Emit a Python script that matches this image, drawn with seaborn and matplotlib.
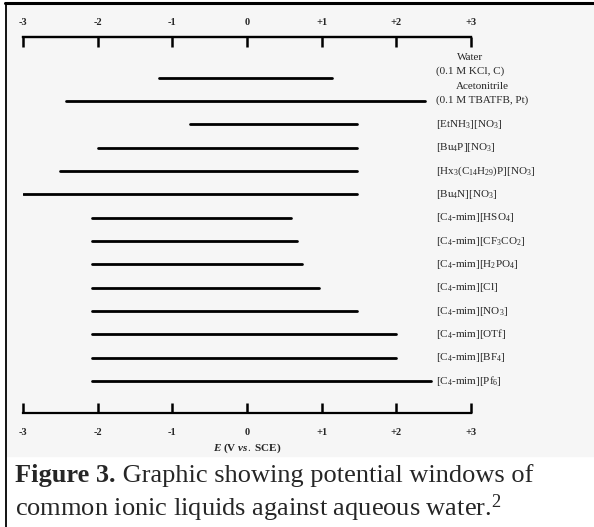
import pandas as pd
import seaborn as sns
import matplotlib.pyplot as plt
from matplotlib.lines import Line2D
from matplotlib.patches import Rectangle

# potential windows (V vs. SCE)
liquids = [
    "Water\n(0.1 M KCl, C)",
    "Acetonitrile\n(0.1 M TBATFB, Pt)",
    "[EtNH$_3$][NO$_3$]",
    "[Bu$_4$P][NO$_3$]",
    "[Hx$_3$(C$_{14}$H$_{29}$)P][NO$_3$]",
    "[Bu$_4$N][NO$_3$]",
    "[C$_4$-mim][HSO$_4$]",
    "[C$_4$-mim][CF$_3$CO$_2$]",
    "[C$_4$-mim][H$_2$PO$_4$]",
    "[C$_4$-mim][Cl]",
    "[C$_4$-mim][NO$_3$]",
    "[C$_4$-mim][OTf]",
    "[C$_4$-mim][BF$_4$]",
    "[C$_4$-mim][Pf$_6$]",
]
cathodic = [-1.18, -2.43, -0.76, -2.0, -2.5, -3.0, -2.07, -2.07, -2.07, -2.07, -2.07, -2.07, -2.07, -2.07]
anodic = [1.14, 2.38, 1.47, 1.47, 1.47, 1.47, 0.59, 0.67, 0.73, 0.97, 1.47, 2.0, 2.0, 2.47]
tick_vals = [-3, -2, -1, 0, 1, 2, 3]
tick_labels = ["-3", "-2", "-1", "0", "+1", "+2", "+3"]

rows = []
for i, name in enumerate(liquids):
    rows.append({"liquid": name, "row": i, "E": cathodic[i]})
    rows.append({"liquid": name, "row": i, "E": anodic[i]})
df = pd.DataFrame(rows)

sns.set_style("white")
plt.rcParams["font.family"] = ["Liberation Serif", "DejaVu Serif"]
plt.rcParams["mathtext.fontset"] = "custom"
plt.rcParams["mathtext.rm"] = "Liberation Serif"
plt.rcParams["mathtext.it"] = "Liberation Serif:style=italic:weight=bold"
plt.rcParams["mathtext.bf"] = "Liberation Serif:weight=bold"

W, H = 594, 527
fig = plt.figure(figsize=(W / 100, H / 100), dpi=100)
fig.patch.set_facecolor("white")

# light panel behind the chart + frame lines
fig.add_artist(Rectangle((6 / W, 1 - 456 / H), 1, (456 - 5) / H,
                         transform=fig.transFigure, color="#f6f6f6", zorder=0))
fig.add_artist(Line2D([5 / W, 1], [1 - 3 / H, 1 - 3 / H], transform=fig.transFigure,
                      color="black", lw=2.2))
fig.add_artist(Line2D([5.5 / W, 5.5 / W], [0, 1 - 3 / H], transform=fig.transFigure,
                      color="black", lw=1.3))

ax = fig.add_axes([23 / W, 1 - 413 / H, (471 - 23) / W, (413 - 37) / H])
ax.set_facecolor("none")

sns.lineplot(data=df, x="E", y="row", units="liquid", estimator=None, sort=False,
             color="black", lw=2.0, ax=ax, legend=False)

ax.set_xlim(-3, 3)
ax.set_ylim(14.37, -1.743)
ax.set_yticks([])
ax.set_ylabel("")

for s in ["left", "right"]:
    ax.spines[s].set_visible(False)
for s in ["top", "bottom"]:
    ax.spines[s].set_linewidth(1.6)
    ax.spines[s].set_color("black")

# bottom scale
ax.set_xticks(tick_vals)
ax.set_xticklabels(tick_labels, fontweight="bold", fontsize=7.5)
ax.tick_params(axis="x", direction="in", length=7, width=1.8, pad=11,
               top=False, bottom=True, color="black")
ax.set_xlabel("$E$ (V $vs.$ SCE)", fontweight="bold", fontsize=8, labelpad=3)

# top scale
top = ax.secondary_xaxis("top")
top.set_xticks(tick_vals)
top.set_xticklabels(tick_labels, fontweight="bold", fontsize=7.5)
top.tick_params(axis="x", direction="in", length=7, width=1.8, pad=7, color="black")
top.spines["top"].set_linewidth(1.6)

# labels to the right of each window
for i, name in enumerate(liquids):
    if "\n" in name:
        shift = 0.55 if i == 0 else 0.31
        ax.text(2.53, i - shift, name, ha="left", va="center", fontsize=8,
                multialignment="center", linespacing=1.6)
    else:
        ax.text(2.53, i, name, ha="left", va="center", fontsize=8)

# caption
cap1 = fig.text(15 / W, 1 - 482 / H, "Figure 3.", fontweight="bold",
                ha="left", va="baseline", fontsize=19)
fig.canvas.draw()
ext = cap1.get_window_extent()
fig.text(ext.x1 / W, 1 - 482 / H, " Graphic showing potential windows of",
         ha="left", va="baseline", fontsize=19)
fig.text(15 / W, 1 - 516 / H, "common ionic liquids against aqueous water.$^2$",
         ha="left", va="baseline", fontsize=19)

fig.savefig("out.png", dpi=100)
